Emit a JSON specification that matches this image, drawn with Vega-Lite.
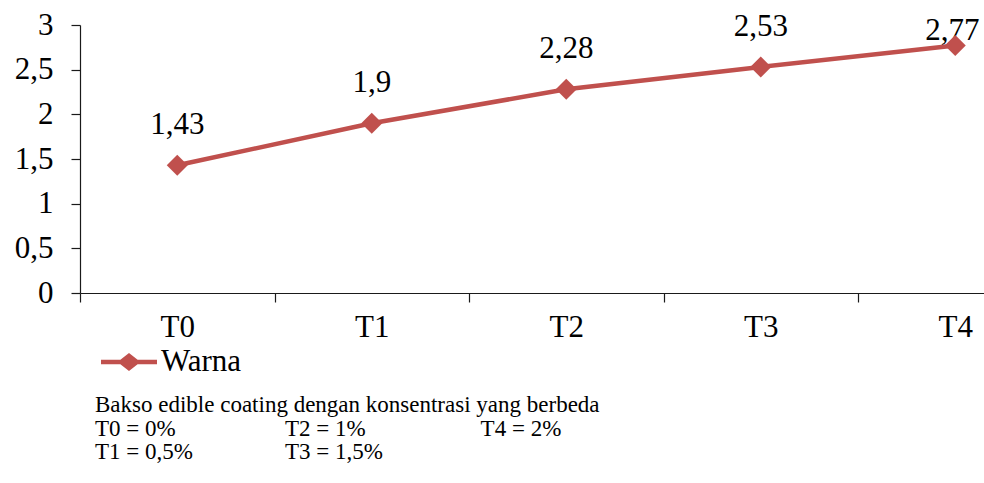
{
  "$schema": "https://vega.github.io/schema/vega-lite/v6.json",
  "width": 904,
  "height": 268,
  "autosize": {"type": "none"},
  "padding": {"left": 80, "top": 25, "right": 0, "bottom": 190},
  "background": "white",
  "data": {
    "values": [
      {"perlakuan": "T0", "nilai": 1.43},
      {"perlakuan": "T1", "nilai": 1.9},
      {"perlakuan": "T2", "nilai": 2.28},
      {"perlakuan": "T3", "nilai": 2.53},
      {"perlakuan": "T4", "nilai": 2.77}
    ]
  },
  "title": {
    "text": [
      "Bakso edible coating dengan konsentrasi yang berbeda",
      "T0 = 0%\u00a0\u00a0\u00a0\u00a0\u00a0\u00a0\u00a0\u00a0\u00a0\u00a0\u00a0\u00a0\u00a0\u00a0\u00a0\u00a0\u00a0\u00a0\u00a0T2 = 1%\u00a0\u00a0\u00a0\u00a0\u00a0\u00a0\u00a0\u00a0\u00a0\u00a0\u00a0\u00a0\u00a0\u00a0\u00a0\u00a0\u00a0\u00a0\u00a0\u00a0T4 = 2%",
      "T1 = 0,5%\u00a0\u00a0\u00a0\u00a0\u00a0\u00a0\u00a0\u00a0\u00a0\u00a0\u00a0\u00a0\u00a0\u00a0\u00a0\u00a0T3 = 1,5%"
    ],
    "orient": "bottom",
    "anchor": "start",
    "frame": "group",
    "dx": 15,
    "offset": 17,
    "font": "Liberation Serif",
    "fontSize": 23,
    "fontWeight": "normal",
    "color": "#000000",
    "lineHeight": 23.5
  },
  "encoding": {
    "x": {
      "field": "perlakuan",
      "type": "nominal",
      "sort": ["T0", "T1", "T2", "T3", "T4"],
      "scale": {"type": "band", "range": [0, 972.5], "paddingInner": 0, "paddingOuter": 0},
      "axis": {
        "title": null,
        "labelAngle": 0,
        "labelFont": "Liberation Serif",
        "labelFontSize": 31,
        "labelColor": "#000000",
        "tickBand": "extent",
        "tickSize": 9,
        "labelPadding": 10,
        "grid": false
      }
    },
    "y": {
      "field": "nilai",
      "type": "quantitative",
      "scale": {"domain": [0, 3], "nice": false},
      "axis": {
        "title": null,
        "values": [0, 0.5, 1, 1.5, 2, 2.5, 3],
        "format": "~g",
        "labelFont": "Liberation Serif",
        "labelFontSize": 31,
        "labelColor": "#000000",
        "tickSize": 9,
        "labelPadding": 18,
        "grid": false
      }
    }
  },
  "layer": [
    {
      "transform": [{"filter": "datum.perlakuan != 'T4'"}],
      "mark": {"type": "text", "dy": -40, "baseline": "middle", "font": "Liberation Serif", "fontSize": 31, "color": "#000000"},
      "encoding": {"text": {"field": "nilai", "type": "quantitative", "format": "~g"}}
    },
    {
      "transform": [{"filter": "datum.perlakuan == 'T4'"}],
      "mark": {"type": "text", "dy": -15, "dx": -3, "baseline": "middle", "font": "Liberation Serif", "fontSize": 31, "color": "#000000"},
      "encoding": {"text": {"field": "nilai", "type": "quantitative", "format": "~g"}}
    },
    {
      "mark": {"type": "line", "color": "#C0504D", "strokeWidth": 4.5},
      "encoding": {}
    },
    {
      "mark": {"type": "point", "shape": "diamond", "filled": true, "size": 440, "opacity": 1},
      "encoding": {
        "color": {
          "datum": "Warna",
          "scale": {"range": ["#C0504D"]},
          "legend": {
            "title": null,
            "orient": "none",
            "legendX": 21,
            "legendY": 309,
            "padding": 0,
            "symbolType": "M-1,-0.08L1,-0.08L1,0.08L-1,0.08Z M0,-0.32L0.41,0L0,0.32L-0.41,0Z",
            "symbolSize": 3136,
            "symbolOpacity": 1,
            "symbolFillColor": "#C0504D",
            "symbolStrokeWidth": 0,
            "labelFont": "Liberation Serif",
            "labelFontSize": 31,
            "labelColor": "#000000",
            "labelOffset": 4
          }
        }
      }
    }
  ],
  "config": {
    "locale": {"number": {"decimal": ",", "thousands": ".", "grouping": [3], "currency": ["", ""]}},
    "view": {"stroke": null},
    "axis": {"domainColor": "#1a1a1a", "tickColor": "#1a1a1a", "domainWidth": 1.2, "tickWidth": 1.2}
  }
}
